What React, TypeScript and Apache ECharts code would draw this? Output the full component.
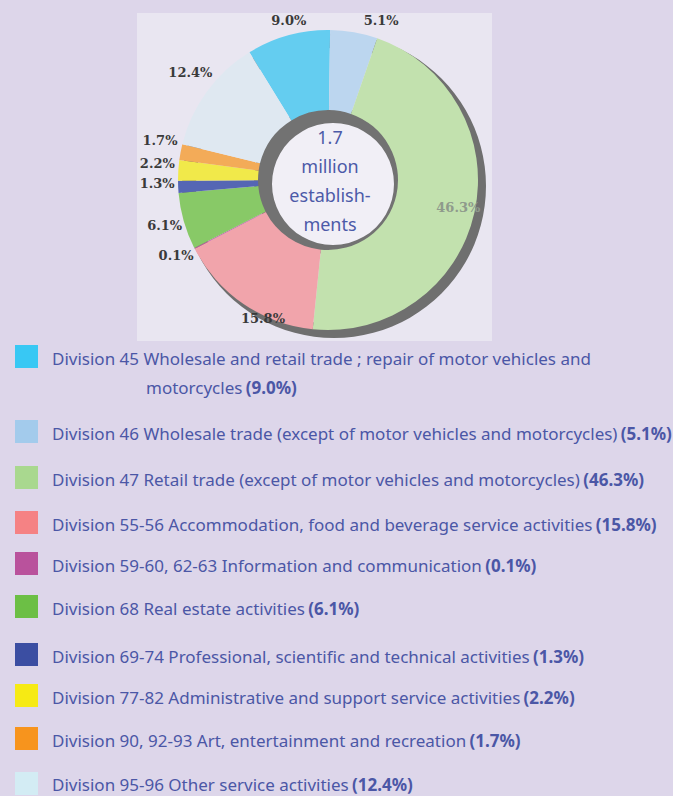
import React, { useEffect, useRef } from "react";
import * as echarts from "echarts";

// ---- data ----
const categories: string[] = [
  "Division 45 Wholesale and retail trade ; repair of motor vehicles and\nmotorcycles",
  "Division 46 Wholesale trade (except of motor vehicles and motorcycles)",
  "Division 47 Retail trade (except of motor vehicles and motorcycles)",
  "Division 55-56 Accommodation, food and beverage service activities",
  "Division 59-60, 62-63 Information and communication",
  "Division 68 Real estate activities",
  "Division 69-74 Professional, scientific and technical activities",
  "Division 77-82 Administrative and support service activities",
  "Division 90, 92-93 Art, entertainment and recreation",
  "Division 95-96 Other service activities",
];
const shares: number[] = [9.0, 5.1, 46.3, 15.8, 0.1, 6.1, 1.3, 2.2, 1.7, 12.4];
const centerLines: string[] = ["1.7", "million", "establish-", "ments"];

// ---- styles ----
const legendColors = [
  "#38c8f4", "#a3cbec", "#a9d88f", "#f58284", "#b9529c",
  "#6cbf45", "#3b4ea2", "#f6ea14", "#f7941d", "#d3ecf4",
];
const sliceColors = [
  "#64cdf0", "#bcd6ef", "#c2e1ae", "#f1a4ab", "#c25aa5",
  "#88c967", "#5566b4", "#f1e94a", "#f3ab58", "#dfe8f1",
];
// label nudges [dx, dy] in px
const labelNudges: number[][] = [
  [7, 8], [23, 12], [20, 3], [33, -5], [3, -4],
  [4, -2], [3, -4], [3, -5], [3, -7], [3, -5],
];
const legendRowY = [356, 431, 477, 522, 563, 606, 654, 695, 738, 783];

const BG = "#ddd6ea";
const TEXT_BLUE = "#4b57a6";
const CX = 328;
const CY = 180;

function nudgedLabel(text: string, dx: number, dy: number) {
  const pad = [0, dx < 0 ? -2 * dx : 0, 0, dx > 0 ? 2 * dx : 0];
  if (dy > 0) return { formatter: "\n" + text, lineHeight: 2 * dy, padding: pad };
  if (dy < 0) return { formatter: text + "\n", lineHeight: -2 * dy, padding: pad };
  return { formatter: text, padding: pad };
}

export default function App() {
  const ref = useRef<HTMLDivElement>(null);

  useEffect(() => {
    if (!ref.current) return;
    const chart = echarts.init(ref.current, undefined, { renderer: "svg" });

    const pct = (v: number) => `(${v.toFixed(1)}%)`;
    const legendFont = '"Noto Sans", sans-serif';
    const FS = 17;

    const legendElements: any[] = [];
    categories.forEach((name, i) => {
      const y = legendRowY[i];
      legendElements.push({
        type: "rect",
        shape: { x: 15, y: y - 11, width: 23, height: 23 },
        style: { fill: legendColors[i] },
        z: 10,
      });
      const parts = name.split("\n");
      const rich = {
        n: { fontFamily: legendFont, fontSize: FS, fill: TEXT_BLUE, color: TEXT_BLUE },
        b: { fontFamily: legendFont, fontSize: FS, fontWeight: "bold", fill: TEXT_BLUE, color: TEXT_BLUE },
      };
      const ty = i === categories.length - 1 ? y + 1 : y + 2;
      if (parts.length === 1) {
        legendElements.push({
          type: "text",
          x: 52,
          y: ty,
          z: 10,
          style: {
            text: `{n|${parts[0]}} {b|${pct(shares[i])}}`,
            rich,
            verticalAlign: "middle",
            align: "left",
          },
        });
      } else {
        legendElements.push({
          type: "text",
          x: 52,
          y: ty,
          z: 10,
          style: { text: `{n|${parts[0]}}`, rich, verticalAlign: "middle", align: "left" },
        });
        legendElements.push({
          type: "text",
          x: 146,
          y: ty + 29,
          z: 10,
          style: {
            text: `{n|${parts[1]}} {b|${pct(shares[i])}}`,
            rich,
            verticalAlign: "middle",
            align: "left",
          },
        });
      }
    });

    const sliceLabelStyle = {
      fontFamily: '"DejaVu Serif", serif',
      fontWeight: "bold" as const,
      fontSize: 13,
      color: "#3a3a3a",
    };

    const option: any = {
      animation: false,
      backgroundColor: BG,
      graphic: [
        {
          type: "rect",
          shape: { x: 137, y: 13, width: 355, height: 328 },
          style: { fill: "#e9e6f1" },
          z: 0,
        },
        {
          type: "text",
          x: 330,
          y: 180,
          z: 100,
          style: {
            text: centerLines.join("\n"),
            align: "center",
            verticalAlign: "middle",
            fontFamily: '"Noto Sans", sans-serif',
            fontSize: 18,
            lineHeight: 29,
            fill: "#4c5aa8",
          },
        },
        ...legendElements,
      ],
      series: [
        {
          // outer 3D shadow
          type: "pie",
          silent: true,
          center: [CX + 6, CY + 6],
          radius: [138, 152],
          label: { show: false },
          labelLine: { show: false },
          data: [{ value: 1, name: "shadow", itemStyle: { color: "#6f6f6f" } }],
        },
        {
          // inner wall ring
          type: "pie",
          silent: true,
          center: [CX, CY],
          radius: [0, 74],
          label: { show: false },
          labelLine: { show: false },
          data: [{ value: 1, name: "wall", itemStyle: { color: "#727272" } }],
        },
        {
          type: "pie",
          silent: true,
          center: [CX, CY],
          radius: [70, 150],
          startAngle: 121.6,
          clockwise: true,
          avoidLabelOverlap: false,
          labelLayout: { hideOverlap: false },
          label: { show: false },
          labelLine: { show: false },
          data: shares.map((v, i) => ({
            value: v,
            name: categories[i],
            itemStyle: { color: sliceColors[i] },
            label:
              i === 2
                ? {
                    show: true,
                    position: "inside",
                    ...sliceLabelStyle,
                    color: "#8f9a8c",
                    ...nudgedLabel(`${v.toFixed(1)}%`, labelNudges[i][0], labelNudges[i][1]),
                  }
                : { show: false },
          })),
        },
        {
          // hole
          type: "pie",
          silent: true,
          center: [CX + 5, CY + 4],
          radius: [0, 61],
          label: { show: false },
          labelLine: { show: false },
          data: [{ value: 1, name: "hole", itemStyle: { color: "#f1eff6" } }],
        },
        {
          // value labels around the donut
          type: "pie",
          silent: true,
          center: [CX, CY],
          radius: [160, 182],
          startAngle: 121.6,
          clockwise: true,
          avoidLabelOverlap: false,
          labelLayout: { hideOverlap: false },
          itemStyle: { color: "rgba(0,0,0,0)" },
          labelLine: { show: false },
          data: shares.map((v, i) => ({
            value: v,
            name: categories[i],
            label: {
              show: i !== 2,
              position: "inside",
              ...sliceLabelStyle,
              ...nudgedLabel(`${v.toFixed(1)}%`, labelNudges[i][0], labelNudges[i][1]),
            },
          })),
        },
      ],
    };

    chart.setOption(option);
    return () => chart.dispose();
  }, []);

  return (
    <div
      ref={ref}
      style={{ position: "fixed", left: 0, top: 0, width: 673, height: 796 }}
    />
  );
}
